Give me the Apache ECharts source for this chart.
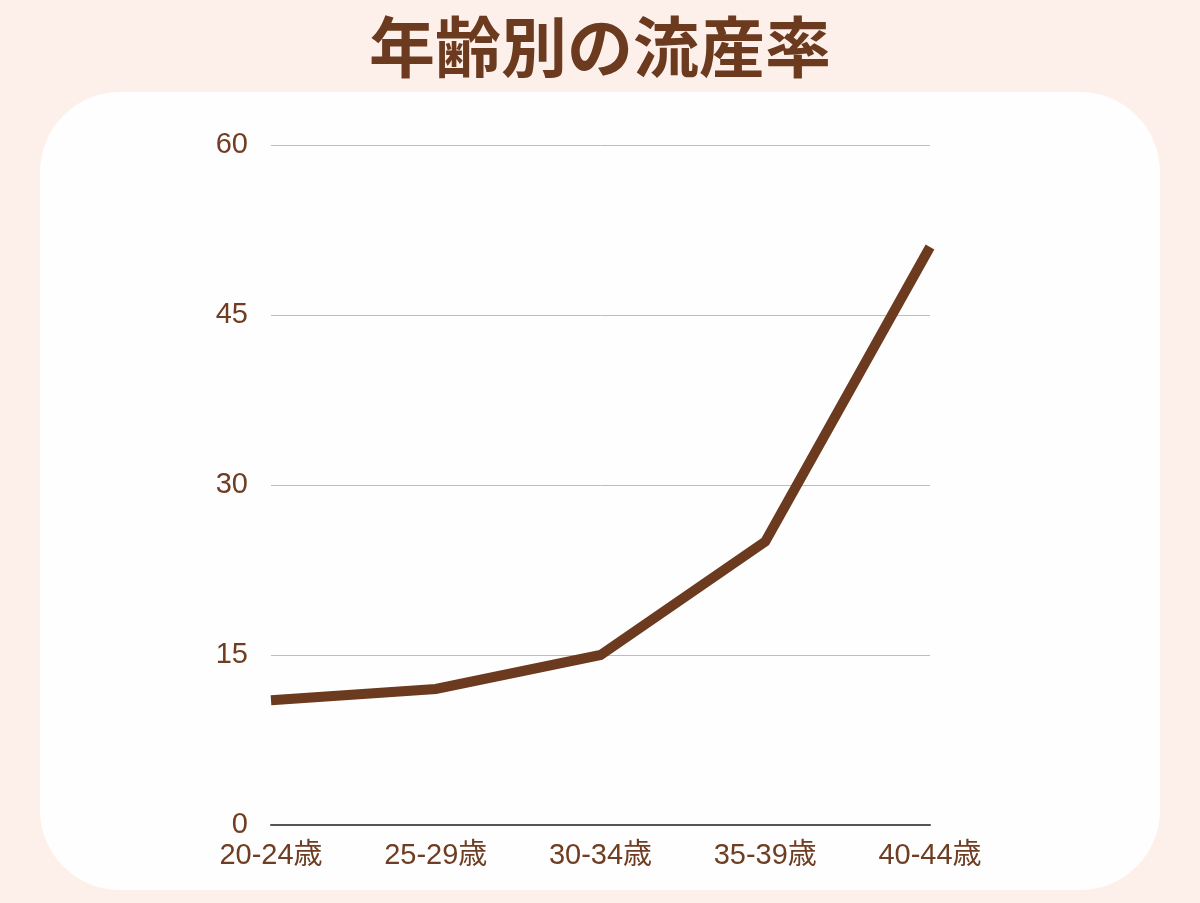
<!DOCTYPE html>
<html><head><meta charset="utf-8">
<script src="https://cdn.jsdelivr.net/npm/echarts@6/dist/echarts.min.js"></script>
<style>html,body{margin:0;padding:0;background:#fdf0ea;}#c{width:1200px;height:903px;}</style>
</head><body><div id="c"></div>
<script>
const categories = ['20-24歳','25-29歳','30-34歳','35-39歳','40-44歳'];
const rates = [11, 12, 15, 25, 51];
const yTicks = [0, 15, 30, 45, 60];
const titleText = '年齢別の流産率';

const brown = '#6b3a1f';
const textBrown = '#6e3d22';
const labelFont = "'Liberation Sans', 'Noto Sans CJK JP', sans-serif";
const chart = echarts.init(document.getElementById('c'));
chart.setOption({
  backgroundColor: '#fdf0ea',
  animation: false,
  graphic: [{
    type: 'rect', z: -10,
    shape: {x: 40, y: 92, width: 1120, height: 798, r: 80},
    style: {fill: '#fffefe'}
  }],
  title: {
    text: titleText, left: 'center', top: 9,
    textStyle: {fontFamily: 'Noto Sans CJK JP', fontWeight: 'bold', fontSize: 66, color: brown}
  },
  grid: {left: 271, right: 270, top: 145, bottom: 78},
  xAxis: {
    type: 'category', data: categories, boundaryGap: false,
    axisLine: {lineStyle: {color: '#555555', width: 2}},
    axisTick: {show: false},
    axisLabel: {color: textBrown, fontSize: 29, fontFamily: labelFont, margin: 16, interval: 0}
  },
  yAxis: {
    type: 'value', min: yTicks[0], max: yTicks[yTicks.length-1], interval: 15,
    axisLine: {show: false}, axisTick: {show: false},
    splitLine: {lineStyle: {color: '#bdbdbd', width: 1}},
    axisLabel: {color: textBrown, fontSize: 29, fontFamily: labelFont, margin: 23}
  },
  series: [{
    type: 'line', data: rates, symbol: 'none',
    lineStyle: {color: brown, width: 10, cap: 'butt', join: 'miter'}
  }]
});
</script></body></html>
